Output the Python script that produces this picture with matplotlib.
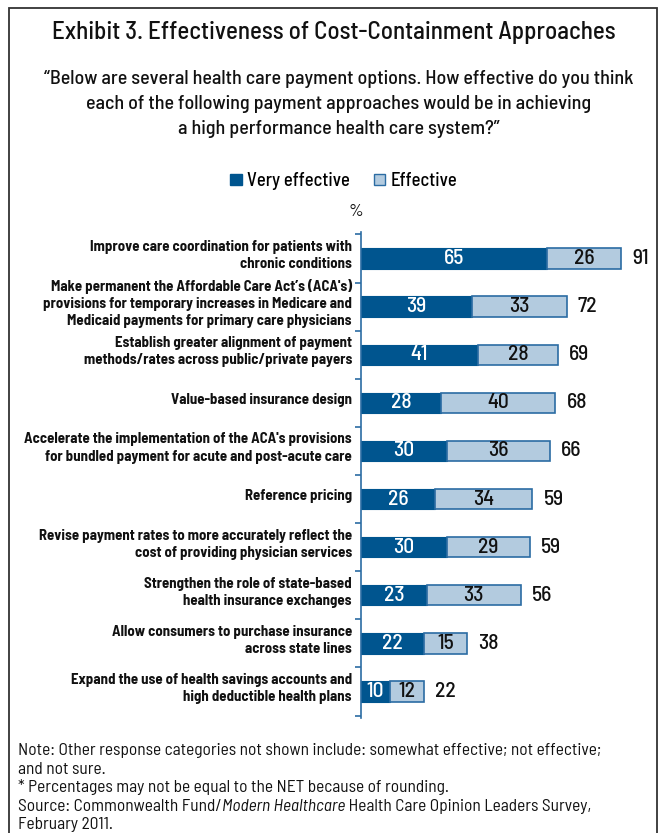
import matplotlib
matplotlib.use("Agg")
import matplotlib.pyplot as plt
import matplotlib.transforms as mtransforms
from matplotlib import font_manager as fm
from matplotlib.patches import Patch, Rectangle
import numpy as np

# pick a condensed face close to the exhibit's Franklin Gothic Condensed
installed = {f.name for f in fm.fontManager.ttflist}
FONT = next(f for f in ['Barlow Semi Condensed', 'Roboto Condensed', 'Fira Sans Condensed', 'DejaVu Sans']
            if f in installed)
plt.rcParams['font.family'] = [FONT, 'DejaVu Sans']

approaches = [
    "Improve care coordination for patients with\nchronic conditions",
    "Make permanent the Affordable Care Act\u2019s (ACA's)\nprovisions for temporary increases in Medicare and\nMedicaid payments for primary care physicians",
    "Establish greater alignment of payment\nmethods/rates across public/private payers",
    "Value-based insurance design",
    "Accelerate the implementation of the ACA's provisions\nfor bundled payment for acute and post-acute care",
    "Reference pricing",
    "Revise payment rates to more accurately reflect the\ncost of providing physician services",
    "Strengthen the role of state-based\nhealth insurance exchanges",
    "Allow consumers to purchase insurance\nacross state lines",
    "Expand the use of health savings accounts and\nhigh deductible health plans",
]
very_effective = [65, 39, 41, 28, 30, 26, 30, 23, 22, 10]
effective = [26, 33, 28, 40, 36, 34, 29, 33, 15, 12]
net_total = [91, 72, 69, 68, 66, 59, 59, 56, 38, 22]

DARK = '#00558f'
LIGHT = '#b3cbdf'
EDGE = '#2b6ca3'
INK = '#111111'

W, H = 663, 833
fig = plt.figure(figsize=(W / 100, H / 100), dpi=100)

# frame around the exhibit (open at the bottom)
fig.add_artist(Rectangle((9 / W, -0.05), (657 - 9) / W, 1.05 - 8 / H,
                         transform=fig.transFigure, fill=False,
                         edgecolor='#333333', linewidth=1.3))

fig.text(334 / W, 1 - 33 / H, "Exhibit 3. Effectiveness of Cost-Containment Approaches",
         ha='center', va='center', fontsize=18, fontweight='medium', color=INK)
fig.text(339 / W, 1 - 104 / H,
         "\u201cBelow are several health care payment options. How effective do you think\n"
         "each of the following payment approaches would be in achieving\n"
         "a high performance health care system?\u201d",
         ha='center', va='center', fontsize=14.4, fontweight='medium', color=INK, linespacing=1.5)

ax_left, ax_right = 361, 361 + 2.857 * 100
ax_top, ax_bot = 232, 718
ax = fig.add_axes([ax_left / W, 1 - ax_bot / H, (ax_right - ax_left) / W, (ax_bot - ax_top) / H])

y = np.arange(len(approaches))
ax.barh(y, very_effective, height=0.42, color=DARK, edgecolor=DARK, linewidth=0.8)
ax.barh(y, effective, left=very_effective, height=0.42, color=LIGHT,
        edgecolor=EDGE, linewidth=1.2)

ax.set_xlim(0, 100)
ax.set_ylim(len(approaches) - 0.45, -0.55)

for s in ['top', 'right', 'bottom']:
    ax.spines[s].set_visible(False)
ax.spines['left'].set_color(EDGE)
ax.spines['left'].set_linewidth(1.2)
ax.set_xticks([])
ax.set_yticks(np.arange(-0.5, len(approaches), 1.0))
ax.set_yticklabels([])
ax.tick_params(axis='y', direction='out', length=4, width=1.2, color=EDGE)

label_tf = mtransforms.offset_copy(ax.get_yaxis_transform(), fig=fig, x=-9, y=3, units='dots')
for i, txt in enumerate(approaches):
    ax.text(0, i, txt, transform=label_tf, ha='right', va='center',
            fontsize=10.7, fontweight='bold', color=INK, linespacing=1.3)

for i in range(len(approaches)):
    v, e, t = very_effective[i], effective[i], net_total[i]
    ax.text(v / 2, i, str(v), ha='center', va='center', color='white', fontsize=15.5, fontweight='medium')
    ax.text(v + e / 2, i, str(e), ha='center', va='center', color=INK, fontsize=15.5, fontweight='medium')
    ax.annotate(str(t), (v + e, i), xytext=(8, 0), textcoords='offset points',
                ha='left', va='center', color=INK, fontsize=15.5, fontweight='medium')

handles = [Patch(facecolor=DARK, edgecolor=DARK, label='Very effective'),
           Patch(facecolor=LIGHT, edgecolor=EDGE, label='Effective')]
fig.legend(handles=handles, loc='center', bbox_to_anchor=(344 / W, 1 - 181 / H), ncol=2,
           frameon=False, handlelength=0.6, handleheight=0.6,
           handletextpad=0.3, columnspacing=1.3, prop={'weight': 'medium', 'size': 13.4})

fig.text(356 / W, 1 - 211 / H, "%", ha='center', va='center', fontsize=13, color=INK)

notes = [
    "Note: Other response categories not shown include: somewhat effective; not effective;",
    "and not sure.",
    "* Percentages may not be equal to the NET because of rounding.",
    None,
    "February 2011.",
]
note_y = [1 - (755 + 18.6 * k) / H for k in range(len(notes))]
for k, line in enumerate(notes):
    if line:
        fig.text(18 / W, note_y[k], line, ha='left', va='baseline', fontsize=12.5, color=INK)

# source line with the italic journal title
src = fig.text(18 / W, note_y[3], "Source: Commonwealth Fund/", ha='left', va='baseline',
               fontsize=12.5, color=INK)
mh = ax.annotate("Modern Healthcare", xy=(1, 0), xycoords=src, ha='left', va='bottom',
                 fontsize=12.5, style='italic', color=INK, annotation_clip=False)
ax.annotate(" Health Care Opinion Leaders Survey,", xy=(1, 0), xycoords=mh, ha='left', va='bottom',
            fontsize=12.5, color=INK, annotation_clip=False)

fig.savefig('out.png', dpi=100)
